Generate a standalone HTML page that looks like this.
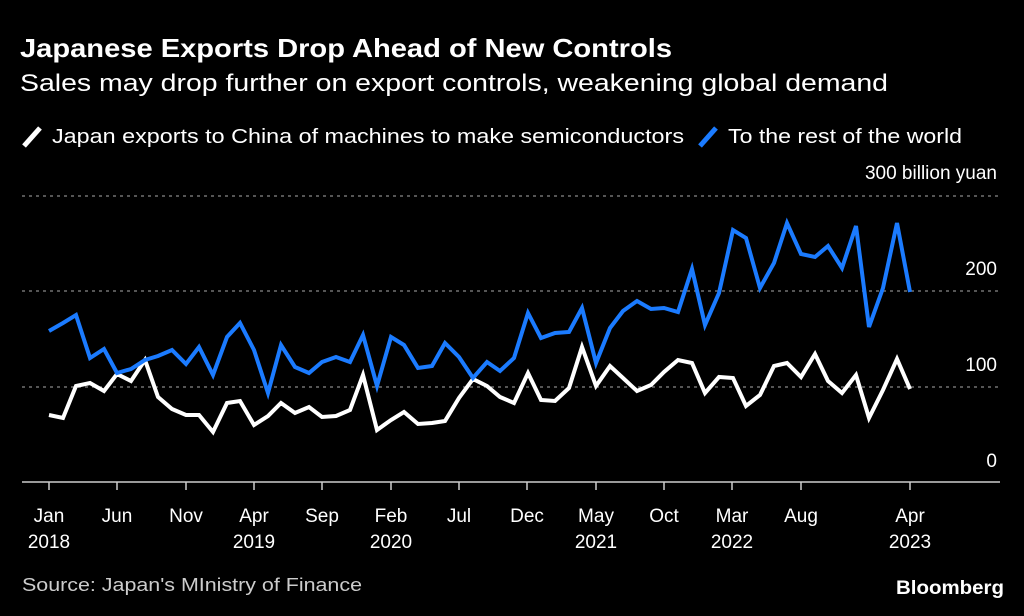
<!DOCTYPE html>
<html><head><meta charset="utf-8"><style>
html,body{margin:0;padding:0;background:#000;}
svg{display:block;font-family:"Liberation Sans",sans-serif;}
</style></head><body>
<svg width="1024" height="616" viewBox="0 0 1024 616" xmlns="http://www.w3.org/2000/svg">
<rect width="1024" height="616" fill="#000"/>
<text x="20" y="57" fill="#fff" font-size="26" font-weight="bold" textLength="652" lengthAdjust="spacingAndGlyphs">Japanese Exports Drop Ahead of New Controls</text>
<text x="20" y="91" fill="#fff" font-size="24" textLength="868" lengthAdjust="spacingAndGlyphs">Sales may drop further on export controls, weakening global demand</text>
<line x1="24" y1="146" x2="40" y2="128" stroke="#fff" stroke-width="5"/>
<text x="52" y="143" fill="#fff" font-size="20" textLength="632" lengthAdjust="spacingAndGlyphs">Japan exports to China of machines to make semiconductors</text>
<line x1="700" y1="146" x2="716" y2="128" stroke="#1b7bff" stroke-width="5"/>
<text x="728" y="143" fill="#fff" font-size="20" textLength="234" lengthAdjust="spacingAndGlyphs">To the rest of the world</text>
<g stroke="#888" stroke-width="1.2" stroke-dasharray="3,4">
<line x1="22" y1="196" x2="1000" y2="196"/>
<line x1="22" y1="291" x2="1000" y2="291"/>
<line x1="22" y1="387" x2="1000" y2="387"/>
</g>
<line x1="22" y1="482" x2="1000" y2="482" stroke="#ccc" stroke-width="1.5"/>
<g fill="#fff" font-size="19" text-anchor="end">
<text x="997" y="179">300 billion yuan</text>
<text x="997" y="275">200</text>
<text x="997" y="371">100</text>
<text x="997" y="467">0</text>
</g>
<g stroke="#ccc" stroke-width="1.5">
<line x1="49" y1="482" x2="49" y2="490"/><line x1="117" y1="482" x2="117" y2="490"/><line x1="186" y1="482" x2="186" y2="490"/><line x1="254" y1="482" x2="254" y2="490"/><line x1="322" y1="482" x2="322" y2="490"/><line x1="391" y1="482" x2="391" y2="490"/><line x1="459" y1="482" x2="459" y2="490"/><line x1="527" y1="482" x2="527" y2="490"/><line x1="596" y1="482" x2="596" y2="490"/><line x1="664" y1="482" x2="664" y2="490"/><line x1="732" y1="482" x2="732" y2="490"/><line x1="801" y1="482" x2="801" y2="490"/><line x1="910" y1="482" x2="910" y2="490"/>
</g>
<g fill="#fff" font-size="19" text-anchor="middle">
<text x="49" y="522">Jan</text><text x="49" y="548">2018</text>
<text x="117" y="522">Jun</text>
<text x="186" y="522">Nov</text>
<text x="254" y="522">Apr</text><text x="254" y="548">2019</text>
<text x="322" y="522">Sep</text>
<text x="391" y="522">Feb</text><text x="391" y="548">2020</text>
<text x="459" y="522">Jul</text>
<text x="527" y="522">Dec</text>
<text x="596" y="522">May</text><text x="596" y="548">2021</text>
<text x="664" y="522">Oct</text>
<text x="732" y="522">Mar</text><text x="732" y="548">2022</text>
<text x="801" y="522">Aug</text>
<text x="910" y="522">Apr</text><text x="910" y="548">2023</text>
</g>
<polyline fill="none" stroke="#fff" stroke-width="4" stroke-linejoin="miter" points="49,415 63,418 76,386 90,383 104,391 117,374 131,381 145,360 158,397 172,409 186,415 199,415 213,432 227,403 240,401 254,425 268,416 281,403 295,413 309,407 322,417 336,416 350,410 363,375 377,430 391,420 404,412 418,424 432,423 445,421 459,398 473,379 487,386 500,397 514,403 528,373 541,400 555,401 569,388 582,347 596,386 610,366 623,378 637,391 651,385 664,372 678,360 692,363 705,393 719,377 733,378 746,406 760,395 774,366 787,363 801,377 815,354 828,381 842,393 856,375 869,418 883,390 897,359 910,389"/>
<polyline fill="none" stroke="#1b7bff" stroke-width="4" stroke-linejoin="miter" points="49,331 63,323 76,315 90,358 104,349 117,373 131,369 145,360 158,356 172,350 186,364 199,347 213,375 227,337 240,323 254,350 268,393 281,345 295,367 309,373 322,362 336,357 350,362 363,335 377,386 391,337 404,345 418,368 432,366 445,343 459,357 473,378 487,362 500,371 514,358 528,313 541,338 555,333 569,332 582,308 596,363 610,328 623,311 637,301 651,309 664,308 678,312 692,269 705,325 719,293 733,230 746,238 760,288 774,263 787,223 801,254 815,257 828,246 842,268 856,226 869,327 883,288 897,223 910,292"/>
<text x="22" y="591" fill="#ccc" font-size="18" textLength="340" lengthAdjust="spacingAndGlyphs">Source: Japan's MInistry of Finance</text>
<text x="1004" y="594" fill="#fff" font-size="19" font-weight="bold" text-anchor="end" textLength="108" lengthAdjust="spacingAndGlyphs">Bloomberg</text>
</svg>
</body></html>
